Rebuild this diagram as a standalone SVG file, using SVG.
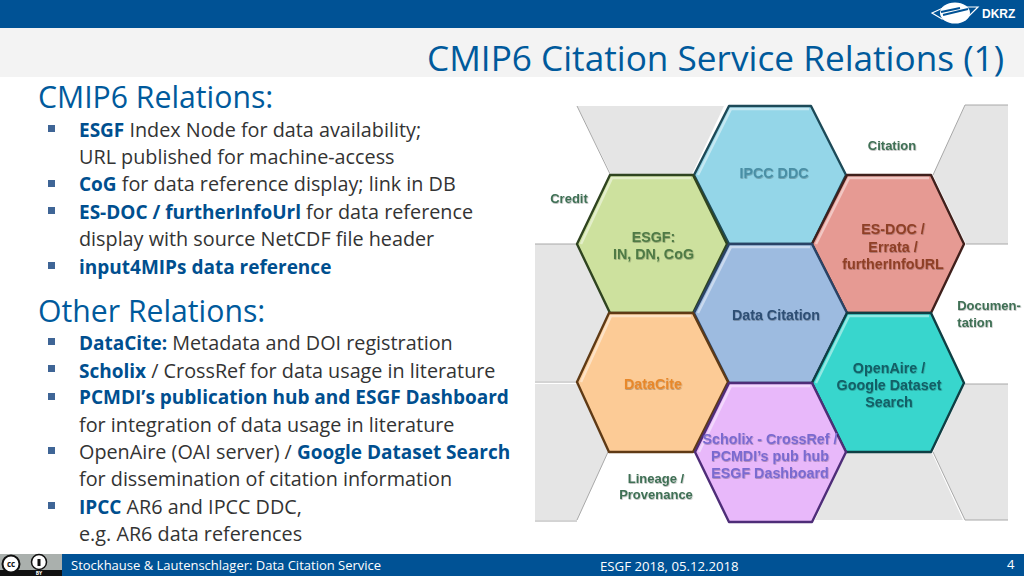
<svg xmlns="http://www.w3.org/2000/svg" width="1024" height="576" viewBox="0 0 1024 576">
<style>
text{font-family:"Open Sans","Noto Sans","Liberation Sans",sans-serif}
.body{font-size:19.800px;fill:#333}
.b{font-weight:700;fill:#004f8f;font-size:19px}
.head{font-size:30.200px;fill:#005a9c}
.bul{fill:#3f6596}
.h{font-size:14.300px;font-weight:700;text-anchor:middle;filter:url(#ts)}
text.h{font-family:"Liberation Sans",Arial,sans-serif}
.lab{font-size:13px;fill:#3f7055}
.grey{fill:#e5e5e5}
.edge{fill:none;stroke:#a8a8a8;stroke-width:1}
.hex{stroke-width:2.400;stroke-linejoin:round}
.hl{fill:none;stroke:#fff;stroke-opacity:.45;stroke-width:2.500}
.foot{font-size:13px;fill:#fff}
</style>
<defs>
<filter id="ts" x="-10%" y="-20%" width="120%" height="140%"><feDropShadow dx="0.5" dy="0.8" stdDeviation="0.7" flood-color="#000" flood-opacity=".3"/></filter>
</defs>
<rect width="1024" height="576" fill="#fff"/>
<rect width="1024" height="28" fill="#005295"/>
<rect y="28" width="1024" height="49" fill="#f3f3f3"/>
<g id="logo">
<ellipse cx="955" cy="13" rx="15" ry="10.500" fill="#fff"/>
<path d="M932 13 L945 7 L978 7 L966 19 L942 19 Z" fill="none" stroke="#fff" stroke-width="1.200"/>
<path d="M943 15 L968 9 M941 12 L960 8" stroke="#005295" stroke-width="2" fill="none"/>
<text x="982" y="18" font-size="12" font-weight="700" fill="#fff" style="font-family:'Liberation Sans',sans-serif">DKRZ</text>
</g>
<text x="427" y="71" font-size="35.200" fill="#005a9c">CMIP6 Citation Service Relations (1)</text>
<text class="head" x="38" y="108">CMIP6 Relations:</text>
<rect class="bul" x="48" y="125" width="7" height="7"/>
<text class="body" x="79" y="137"><tspan class="b">ESGF</tspan> Index Node for data availability;</text>
<text class="body" x="79" y="164">URL published for machine-access</text>
<rect class="bul" x="48" y="180" width="7" height="7"/>
<text class="body" x="79" y="191"><tspan class="b">CoG</tspan> for data reference display; link in DB</text>
<rect class="bul" x="48" y="207" width="7" height="7"/>
<text class="body" x="79" y="219"><tspan class="b">ES-DOC / furtherInfoUrl</tspan> for data reference</text>
<text class="body" x="79" y="246">display with source NetCDF file header</text>
<rect class="bul" x="48" y="262" width="7" height="7"/>
<text class="body" x="79" y="274"><tspan class="b">input4MIPs data reference</tspan></text>
<text class="head" x="38" y="322">Other Relations:</text>
<rect class="bul" x="48" y="338" width="7" height="7"/>
<text class="body" x="79" y="350"><tspan class="b">DataCite:</tspan> Metadata and DOI registration</text>
<rect class="bul" x="48" y="365" width="7" height="7"/>
<text class="body" x="79" y="378"><tspan class="b">Scholix</tspan> / CrossRef for data usage in literature</text>
<rect class="bul" x="48" y="393" width="7" height="7"/>
<text class="body" x="79" y="404"><tspan class="b">PCMDI’s publication hub and ESGF Dashboard</tspan></text>
<text class="body" x="79" y="432">for integration of data usage in literature</text>
<rect class="bul" x="48" y="447" width="7" height="7"/>
<text class="body" x="79" y="459">OpenAire (OAI server) / <tspan class="b">Google Dataset Search</tspan></text>
<text class="body" x="79" y="486">for dissemination of citation information</text>
<rect class="bul" x="48" y="502" width="7" height="7"/>
<text class="body" x="79" y="514"><tspan class="b">IPCC</tspan> AR6 and IPCC DDC,</text>
<text class="body" x="79" y="541">e.g. AR6 data references</text>
<g id="background">
<polygon class="grey" points="577,106 724,106 692,174 611,174"/>
<polygon class="grey" points="535,244 577,244 610,313 577,381 535,381"/>
<polygon class="grey" points="535,384 577,384 608,452 577,520 535,520"/>
<polygon class="grey" points="965,105 1008,105 1008,244 966,244 933,175"/>
<polygon class="grey" points="965,384 1008,384 1008,520 965,520 933,452"/>
<polygon class="grey" points="846,453 932,453 963,520 815,520"/>
<path class="edge" d="M577 106 L610 174 M535 244 L577 244 M535 382 L577 382 M577 520 L608 452 M535 521 L577 521 M965 105 L1008 105 M965 105 L933 175 M966 244 L1008 244 M965 384 L1008 384 M933 452 L965 520 L1008 520"/>
</g>
<g id="ipcc"><polygon class="hex" fill="#94d6e8" stroke="#1d4a58" points="729,106 811,106 846,175 812,244 729,244 694,175"/><polyline class="hl" points="698,175 731,109 809,109"/><text class="h" x="774" y="178" fill="#4a8fa5">IPCC DDC</text></g>
<g id="esgf"><polygon class="hex" fill="#cde19e" stroke="#2f4420" points="610,175 693,175 727,244 693,313 610,313 577,244"/><polyline class="hl" points="581,244 612,178 691,178"/><text class="h" x="653.500" y="242" fill="#4f7a45">ESGF:<tspan x="653.500" dy="17">IN, DN, CoG</tspan></text></g>
<g id="esdoc"><polygon class="hex" fill="#e69a93" stroke="#40201c" points="847,175 931,175 964,244 931,313 847,313 812,244"/><polyline class="hl" points="816,244 849,178 929,178"/><text class="h" x="893" y="234" fill="#8f3f26">ES-DOC /<tspan x="893" dy="17.500">Errata /</tspan><tspan x="893" dy="17.500">furtherInfoURL</tspan></text></g>
<g id="datacitation"><polygon class="hex" fill="#9dbbe0" stroke="#2a4366" points="729,244 812,244 847,313 812,383 729,383 694,313"/><polyline class="hl" points="698,313 731,247 810,247"/><text class="h" x="776" y="320" fill="#2e4f75">Data Citation</text></g>
<g id="datacite"><polygon class="hex" fill="#fccb96" stroke="#5f3a15" points="609,313 693,313 728,382 693,452 609,452 577,382"/><polyline class="hl" points="581,382 611,316 691,316"/><text class="h" x="653" y="389" fill="#e8882b">DataCite</text></g>
<g id="openaire"><polygon class="hex" fill="#38d6cd" stroke="#0f3f44" points="847,313 931,313 964,383 931,452 846,452 812,383"/><polyline class="hl" points="816,383 849,316 929,316"/><text class="h" x="889" y="373" fill="#125f66">OpenAire /<tspan x="889" dy="17">Google Dataset</tspan><tspan x="889" dy="17">Search</tspan></text></g>
<g id="scholix"><polygon class="hex" fill="#e8b8fa" stroke="#4e2d78" points="729,383 812,383 846,452 812,522 729,522 695,452"/><polyline class="hl" points="699,452 731,386 810,386"/><text class="h" x="770" y="444" fill="#7a6ad0">Scholix - CrossRef /<tspan x="770" dy="17">PCMDI’s pub hub</tspan><tspan x="770" dy="17">ESGF Dashboard</tspan></text></g>
<g id="labels">
<text class="h lab" x="892" y="150">Citation</text>
<text class="h lab" x="569" y="203">Credit</text>
<text class="h lab" x="989" y="310">Documen-<tspan x="975" dy="16.500">tation</tspan></text>
<text class="h lab" x="656" y="483">Lineage /<tspan x="656" dy="16">Provenance</tspan></text>
</g>
<rect x="62" y="554" width="962" height="22" fill="#005295"/>
<g id="cc">
<rect y="554" width="62" height="22" fill="#aab0ad"/>
<rect y="570" width="62" height="6" fill="#111"/>
<circle cx="11" cy="564" r="8.500" fill="#fff" stroke="#111" stroke-width="2"/>
<circle cx="39" cy="562" r="7.500" fill="#fff" stroke="#111" stroke-width="1.500"/>
<rect x="37.500" y="559" width="3" height="7" fill="#111"/>
<text x="11" y="567" font-size="8" font-weight="700" text-anchor="middle" fill="#111">cc</text>
<text x="39" y="575" font-size="5" font-weight="700" text-anchor="middle" fill="#fff">BY</text>
</g>
<text class="foot" x="71" y="570">Stockhause &amp; Lautenschlager: Data Citation Service</text>
<text class="foot" x="600" y="571" style="font-size:13.200px">ESGF 2018, 05.12.2018</text>
<text class="foot" x="1007" y="569">4</text>
</svg>
